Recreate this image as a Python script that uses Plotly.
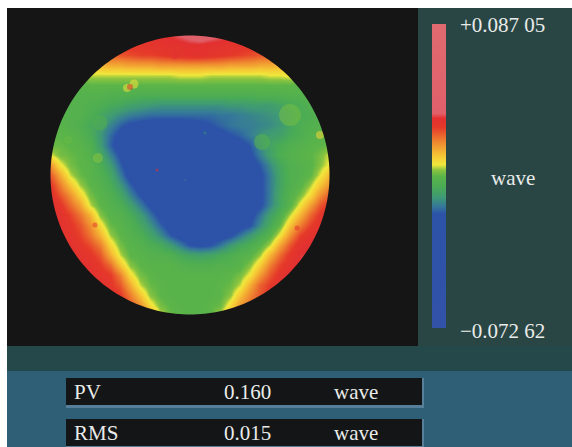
import numpy as np
import plotly.graph_objects as go

# Surface height, in thousandths of a wave
col_x = list(range(50, 331, 10))
row_y = list(range(35, 316, 10))
map_rows = [
 [28,29,30,31,32,33,34,35,36,36,37,37,38,40,42,44,42,40,38,37,36,35,33,31,30,29,28,28,28],
 [24,26,28,30,31,32,33,34,34,34,35,35,36,36,37,37,36,36,35,35,34,33,32,30,28,26,25,24,24],
 [20,21,22,24,26,28,29,30,31,32,32,33,34,35,36,36,35,34,33,32,31,30,29,27,25,23,22,21,20],
 [16,16,17,18,18,20,21,21,22,22,22,23,23,23,23,23,23,23,22,22,22,21,21,20,19,18,17,16,16],
 [10,10,11,11,12,12,12,12,12,12,12,12,12,13,13,13,12,12,12,12,12,12,13,13,14,12,11,10,10],
 [6,6,6,6,7,7,7,7,7,7,7,7,7,7,7,7,7,7,7,7,7,7,7,7,7,6,6,6,6],
 [5,5,5,5,5,5,4,4,4,3,3,3,3,3,3,3,3,3,3,3,3,4,4,4,5,5,5,5,5],
 [5,5,5,5,4,3,1,0,-2,-3,-4,-5,-5,-5,-5,-5,-5,-5,-4,-4,-3,-3,-3,-1,1,2,4,5,5],
 [5,5,5,5,3,0,-3,-6,-8,-9,-10,-10,-10,-10,-10,-10,-10,-9,-9,-8,-7,-6,-5,-4,-1,2,3,5,5],
 [6,6,5,4,1,-3,-7,-11,-14,-15,-16,-17,-17,-17,-16,-15,-13,-11,-9,-8,-8,-7,-6,-4,0,3,4,5,6],
 [7,7,6,5,2,-4,-10,-15,-19,-20,-20,-20,-20,-20,-20,-18,-17,-15,-13,-11,-8,-5,-3,-2,1,3,5,6,7],
 [8,8,7,6,4,-3,-11,-17,-20,-20,-20,-20,-20,-20,-20,-20,-20,-19,-18,-15,-12,-6,-1,2,4,5,6,7,8],
 [13,9,8,7,5,0,-7,-14,-20,-20,-20,-20,-20,-20,-20,-20,-20,-20,-20,-18,-14,-8,-2,3,5,6,7,9,13],
 [24,14,9,7,6,3,-3,-11,-18,-20,-20,-20,-20,-20,-20,-20,-20,-20,-20,-20,-16,-12,-6,0,4,5,6,10,14],
 [30,21,12,8,6,4,0,-8,-16,-20,-20,-20,-20,-20,-20,-20,-20,-20,-20,-20,-17,-14,-8,-1,4,5,7,13,20],
 [34,26,18,11,7,5,2,-4,-11,-17,-20,-20,-20,-20,-20,-20,-20,-20,-20,-20,-18,-14,-8,-1,4,6,11,18,24],
 [36,30,24,16,9,6,4,0,-7,-13,-18,-20,-20,-20,-20,-20,-20,-20,-20,-20,-18,-14,-8,0,5,9,15,24,30],
 [38,34,28,22,12,7,5,3,-2,-8,-14,-18,-20,-20,-20,-20,-20,-20,-20,-20,-17,-14,-7,0,6,14,22,30,34],
 [38,36,32,27,20,10,6,5,2,-3,-9,-15,-18,-20,-20,-20,-20,-20,-20,-18,-15,-9,-2,4,12,20,28,34,36],
 [38,36,34,30,24,15,8,6,4,0,-5,-11,-16,-18,-20,-20,-20,-20,-18,-16,-13,-6,1,8,18,26,32,36,36],
 [38,36,35,32,27,20,11,7,5,3,-1,-6,-12,-16,-17,-17,-17,-16,-14,-9,-4,1,6,14,24,32,36,37,37],
 [38,37,36,34,31,26,16,9,6,5,3,1,-3,-8,-13,-14,-13,-9,-4,0,3,6,12,22,30,36,38,38,38],
 [38,38,37,36,34,30,21,12,7,6,5,5,4,1,-1,-2,-1,1,3,5,6,11,20,28,34,38,38,38,38],
 [38,38,38,38,36,33,28,18,10,7,6,6,6,5,4,4,4,5,5,6,10,17,26,32,36,38,38,38,38],
 [38,38,38,38,37,35,33,26,15,9,7,6,6,6,6,6,6,6,7,9,14,23,30,35,37,38,38,38,38],
 [38,38,38,38,38,36,34,30,21,12,8,7,6,6,6,6,6,7,8,12,21,29,33,36,38,38,38,38,38],
 [38,38,38,38,38,37,36,33,26,18,10,7,6,6,6,6,6,7,10,18,25,30,34,37,38,38,38,38,38],
 [38,38,38,38,38,38,37,34,30,24,15,9,7,6,6,6,7,8,15,23,28,32,35,38,38,38,38,38,38],
 [38,38,38,38,38,38,38,36,32,28,22,13,8,7,6,6,7,12,20,26,28,32,35,38,38,38,38,38,38],
]
spot_x = [127, 134, 130, 290, 262, 98, 100, 68, 320, 157, 205, 185, 95, 297, 175]
spot_y = [88, 84, 87, 115, 142, 158, 123, 140, 135, 170, 133, 180, 225, 228, 55]
spot_v = [14, 14, 34, 9, 6, 10, 4, 8, 16, 36, -6, -8, 34, 34, 37]
spot_s = [8, 9, 6, 22, 16, 10, 15, 8, 8, 3, 3, 2, 5, 5, 9]

top_value = 0.08705
bottom_value = -0.07262
top_label = "+0.087 05"
bottom_label = "−0.072 62"
unit = "wave"
stat_names = ["PV", "RMS"]
stat_values = ["0.160", "0.015"]

scale = [
 [0, "#3252a8"], [0.375, "#2c53a8"], [0.40, "#35789a"], [0.43, "#3f9a74"],
 [0.465, "#4aab55"], [0.50, "#5cb548"], [0.52, "#8cc43f"], [0.537, "#f0e83c"],
 [0.565, "#f6c735"], [0.61, "#ef8a30"], [0.66, "#e5392a"], [0.69, "#e23030"],
 [0.705, "#e0606a"], [1, "#e06a70"],
]

fig = go.Figure()
fig.add_trace(go.Heatmap(x=col_x, y=row_y, z=np.array(map_rows) / 1000, coloraxis="coloraxis",
                         zsmooth="best", hoverinfo="skip"))
fig.add_trace(go.Scatter(x=spot_x, y=spot_y, mode="markers", hoverinfo="skip",
                         marker=dict(color=np.array(spot_v) / 1000, size=spot_s, opacity=0.55,
                                     coloraxis="coloraxis", line_width=0)))

BLACK = "#151516"
def rect(x0, y0, x1, y1, color, layer="below"):
    fig.add_shape(type="rect", x0=x0, y0=y0, x1=x1, y1=y1, fillcolor=color, layer=layer,
                  line_width=0)

rect(7, 8, 572, 372, "#2a4644")
rect(7, 346, 572, 371, "#25494a")
rect(7, 8, 418, 346, BLACK)
rect(7, 371, 572, 447, "#2e5f76")
box_tops = (378, 419)
for top in box_tops:
    rect(66, top, 424, top + 30, "#56809a")
    rect(66, top, 422, top + 27, "#141516")

# black mask around the circular aperture
t = np.linspace(0, 2 * np.pi, 241)
cx, cy, r = 190, 175, 139.5
circle = "M" + "L".join(f"{cx + r*np.cos(a):.2f},{cy + r*np.sin(a):.2f}" for a in t) + "Z"
fig.add_shape(type="path", path="M30,20L350,20L350,330L30,330Z" + circle, fillcolor=BLACK,
              fillrule="evenodd", line_width=0, layer="above")

def label(x, y, text, anchor="left"):
    fig.add_annotation(x=x, y=y, text=text, showarrow=False, xanchor=anchor, yanchor="middle",
                       font=dict(family="Liberation Serif", size=21, color="#e9ecea"))

label(458, 25, top_label)
label(458, 331, bottom_label)
label(489, 178, unit)
for i, top in enumerate(box_tops):
    label(72, top + 14, stat_names[i])
    label(222, top + 14, stat_values[i])
    label(332, top + 14, unit)

fig.update_layout(
    width=572, height=447, margin=dict(l=0, r=0, t=0, b=0),
    paper_bgcolor="white", plot_bgcolor="white", showlegend=False,
    xaxis=dict(range=[0, 572], visible=False, domain=[0, 1], fixedrange=True),
    yaxis=dict(range=[447, 0], visible=False, domain=[0, 1], fixedrange=True),
    coloraxis=dict(colorscale=scale, cmin=bottom_value, cmax=top_value,
                   colorbar=dict(thickness=14, thicknessmode="pixels", lenmode="pixels", len=304,
                                 x=432/572, xanchor="left", y=1-24/447, yanchor="top", xpad=0, ypad=0,
                                 outlinewidth=0, borderwidth=0, ticks="", showticklabels=False)),
)
fig.write_html("out.html", config=dict(displayModeBar=False),
               post_script="document.body.style.margin='0';")
